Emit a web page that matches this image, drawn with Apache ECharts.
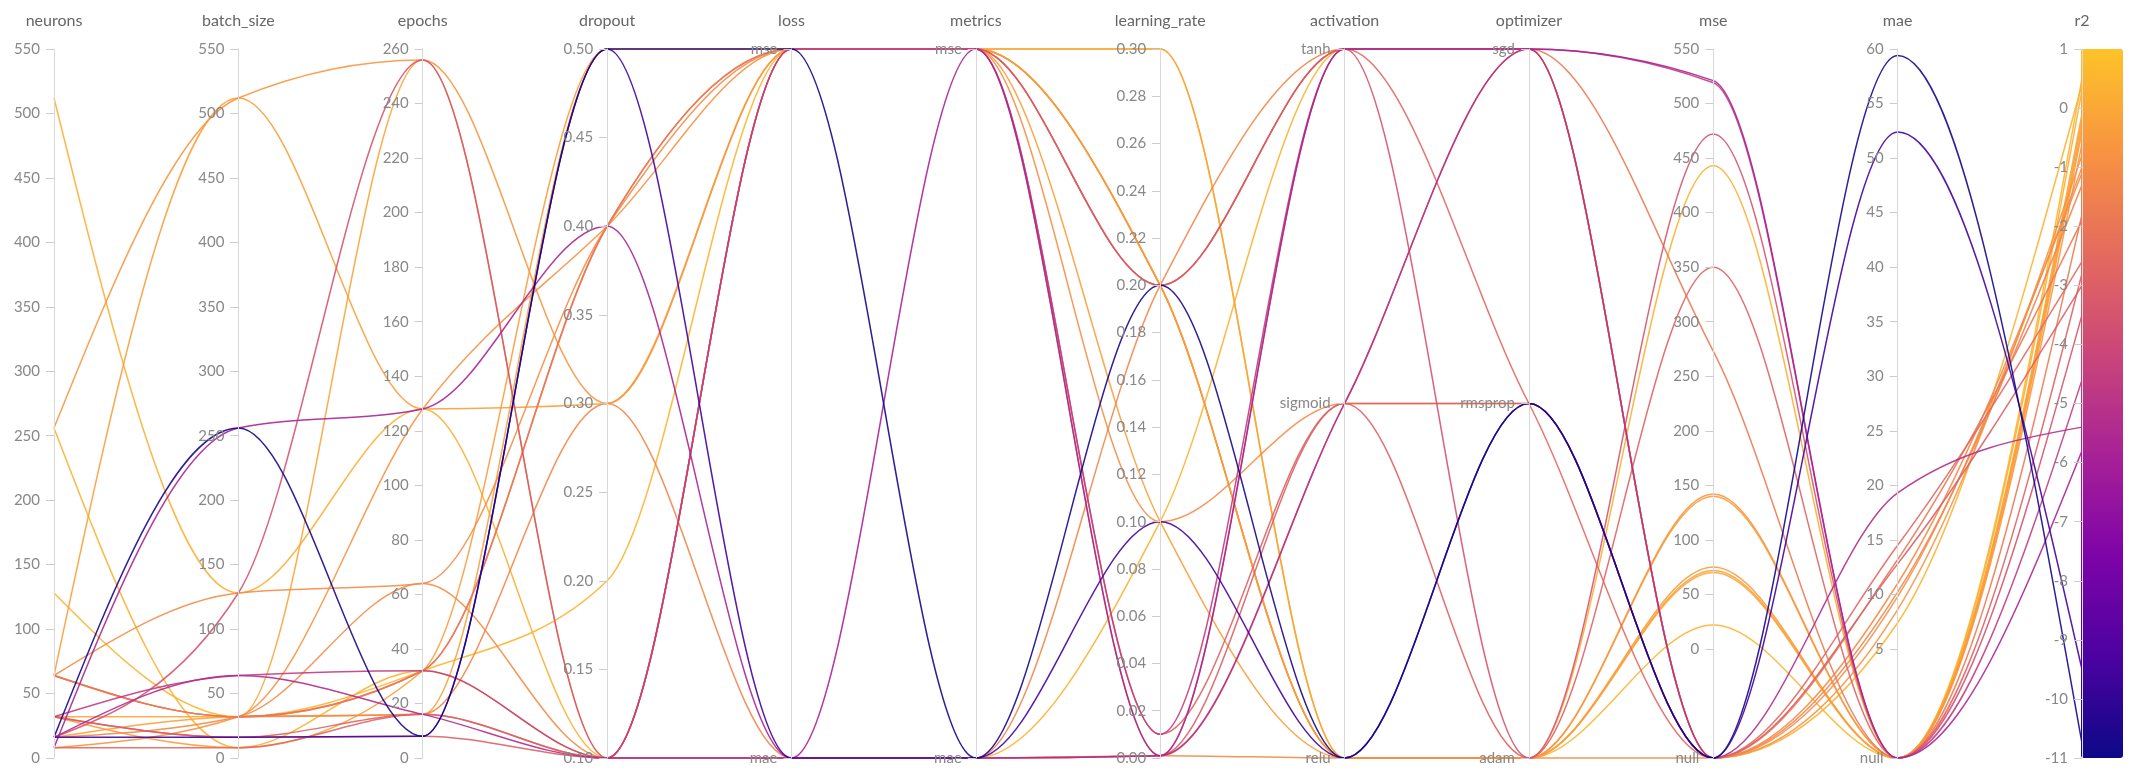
<!DOCTYPE html>
<html>
<head>
<meta charset="utf-8">
<script src="https://cdn.jsdelivr.net/npm/echarts@6/dist/echarts.min.js"></script>
<style>
  html, body { margin: 0; padding: 0; background: #ffffff; }
  #chart { width: 2147px; height: 771px; }
</style>
</head>
<body>
<div id="chart"></div>
<script>
// One entry per training run of the hyper-parameter sweep.
const neurons      = [128, 256, 512, 32, 16, 64, 32, 256, 8, 64, 16, 64, 64, 64, 8, 32, 32, 16, 32, 16, 8, 16, 16];
const batchSize    = [32, 8, 128, 32, 32, 512, 8, 512, 32, 128, 32, 32, 32, 32, 8, 16, 16, 128, 64, 64, 256, 16, 256];
const epochs       = [32, 32, 128, 256, 16, 128, 32, 256, 128, 64, 64, 16, 32, 32, 16, 16, 8, 256, 32, 16, 128, 8, 8];
const dropout      = [0.2, 0.1, 0.1, 0.1, 0.5, 0.3, 0.5, 0.3, 0.4, 0.4, 0.1, 0.3, 0.4, 0.4, 0.1, 0.1, 0.1, 0.1, 0.1, 0.1, 0.4, 0.5, 0.5];
const loss         = ['mse', 'mae', 'mse', 'mse', 'mse', 'mse', 'mse', 'mse', 'mse', 'mse', 'mae', 'mae', 'mse', 'mse', 'mae', 'mse', 'mae', 'mse', 'mse', 'mae', 'mae', 'mae', 'mse'];
const metrics      = ['mse', 'mae', 'mse', 'mse', 'mse', 'mse', 'mse', 'mse', 'mse', 'mse', 'mae', 'mae', 'mse', 'mse', 'mae', 'mse', 'mae', 'mse', 'mse', 'mae', 'mse', 'mae', 'mae'];
const learningRate = [0.2, 0.1, 0.3, 0.3, 0.2, 0.1, 0.2, 0.2, 0.2, 0.1, 0.001, 0.2, 0.2, 0.001, 0.001, 0.01, 0.001, 0.2, 0.01, 0.001, 0.001, 0.1, 0.2];
const activation   = ['relu', 'tanh', 'relu', 'relu', 'relu', 'relu', 'relu', 'relu', 'tanh', 'sigmoid', 'relu', 'tanh', 'tanh', 'sigmoid', 'tanh', 'sigmoid', 'sigmoid', 'tanh', 'tanh', 'sigmoid', 'tanh', 'relu', 'relu'];
const optimizer    = ['adam', 'sgd', 'adam', 'adam', 'adam', 'adam', 'adam', 'adam', 'sgd', 'rmsprop', 'adam', 'sgd', 'sgd', 'sgd', 'rmsprop', 'adam', 'rmsprop', 'adam', 'sgd', 'sgd', 'sgd', 'rmsprop', 'rmsprop'];
const mse          = [22, null, 443, 70, 72, 75, 140, 142, null, null, null, null, 273, null, null, 350, null, 472, 519, null, 521, null, null];
const mae          = [null, 7.4, null, null, null, null, null, null, 8.6, 9.8, 11, 10.2, null, 13.2, 14.5, null, 12.8, null, null, 19.3, null, 52.4, 59.4];
const r2           = [0.5, 0.4, 0.3, -0.1, -0.2, -0.3, -0.4, -0.6, -0.8, -1.0, -1.1, -1.3, -1.8, -1.9, -2.6, -2.8, -3.0, -3.5, -4.6, -5.4, -5.8, -9.5, -10.75];

// Category orders run bottom-to-top along each axis.
const lossCategories       = ['mae', 'mse'];
const metricCategories     = ['mae', 'mse'];
const activationCategories = ['relu', 'sigmoid', 'tanh'];
const optimizerCategories  = ['adam', 'rmsprop', 'sgd'];

// Missing metric values sit on a "null" slot below the numeric range.
const MSE_NULL = -100;
const MAE_NULL = -5;
const mseTicks = [MSE_NULL, 0, 50, 100, 150, 200, 250, 300, 350, 400, 450, 500, 550];
const maeTicks = [MAE_NULL, 5, 10, 15, 20, 25, 30, 35, 40, 45, 50, 55, 60];

const plasma = ['#0d0887', '#4c02a1', '#7e03a8', '#a82296', '#cb4679', '#e56b5d', '#f89441', '#fdc328'];

const rows = neurons.map((_, i) => [
  neurons[i], batchSize[i], epochs[i], dropout[i], loss[i], metrics[i],
  learningRate[i], activation[i], optimizer[i],
  mse[i] === null ? MSE_NULL : mse[i],
  mae[i] === null ? MAE_NULL : mae[i],
  r2[i]
]);
const DIM_COUNT = rows[0].length;

const FONT = 'Lato';
// Ticks and labels sit on the left-hand side of every axis.
const axisCommon = {
  nameLocation: 'end',
  nameGap: 20,
  nameMoveOverlap: false,
  nameTextStyle: { color: '#666', fontSize: 16, fontFamily: FONT, align: 'center' },
  axisLine: { lineStyle: { color: '#d9d9d9', width: 1 } },
  axisTick: { show: true, length: -8, lineStyle: { color: '#cccccc' } },
  axisLabel: { color: '#888', fontSize: 15, fontFamily: FONT, margin: -14, align: 'right' },
  splitLine: { show: false }
};

function valueAxis(dim, name, min, max, interval, fmt) {
  const ax = Object.assign({}, axisCommon, { dim, name, type: 'value', min, max, interval });
  ax.axisLabel = Object.assign({}, axisCommon.axisLabel);
  if (fmt) ax.axisLabel.formatter = fmt;
  return ax;
}
function categoryAxis(dim, name, data) {
  return Object.assign({}, axisCommon, { dim, name, type: 'category', data, boundaryGap: false });
}
function nullableAxis(dim, name, min, max, ticks, nullValue) {
  const ax = Object.assign({}, axisCommon, { dim, name, type: 'value', min, max });
  ax.axisTick = Object.assign({}, axisCommon.axisTick, { customValues: ticks });
  ax.axisLabel = Object.assign({}, axisCommon.axisLabel, {
    customValues: ticks,
    formatter: v => (v === nullValue ? 'null' : String(v))
  });
  return ax;
}

// Monotone cubic interpolation in x (no overshoot between axes).
function monotonePath(ctx, shape) {
  const p = shape.points;
  const n = p ? p.length : 0;
  if (n < 2) return;
  const sign = v => (v < 0 ? -1 : 1);
  const t = new Array(n).fill(0);
  for (let i = 1; i < n - 1; i++) {
    const h0 = p[i][0] - p[i - 1][0];
    const h1 = p[i + 1][0] - p[i][0];
    const s0 = (p[i][1] - p[i - 1][1]) / h0;
    const s1 = (p[i + 1][1] - p[i][1]) / h1;
    const q = (s0 * h1 + s1 * h0) / (h0 + h1);
    t[i] = (sign(s0) + sign(s1)) * Math.min(Math.abs(s0), Math.abs(s1), 0.5 * Math.abs(q)) || 0;
  }
  if (n > 2) {
    const ha = p[1][0] - p[0][0];
    t[0] = ha ? (3 * (p[1][1] - p[0][1]) / ha - t[1]) / 2 : t[1];
    const hb = p[n - 1][0] - p[n - 2][0];
    t[n - 1] = hb ? (3 * (p[n - 1][1] - p[n - 2][1]) / hb - t[n - 2]) / 2 : t[n - 2];
  } else {
    t[0] = t[1] = (p[1][1] - p[0][1]) / (p[1][0] - p[0][0]);
  }
  ctx.moveTo(p[0][0], p[0][1]);
  for (let i = 0; i < n - 1; i++) {
    const dx = (p[i + 1][0] - p[i][0]) / 3;
    ctx.bezierCurveTo(
      p[i][0] + dx, p[i][1] + dx * t[i],
      p[i + 1][0] - dx, p[i + 1][1] - dx * t[i + 1],
      p[i + 1][0], p[i + 1][1]
    );
  }
}

const chart = echarts.init(document.getElementById('chart'), null, { renderer: 'canvas' });
chart.setOption({
  animation: false,
  backgroundColor: '#ffffff',
  parallel: {
    left: 54, right: 65, top: 49, bottom: 13,
    layout: 'horizontal'
  },
  parallelAxis: [
    valueAxis(0, 'neurons', 0, 550, 50),
    valueAxis(1, 'batch_size', 0, 550, 50),
    valueAxis(2, 'epochs', 0, 260, 20),
    valueAxis(3, 'dropout', 0.1, 0.5, 0.05, v => v.toFixed(2)),
    categoryAxis(4, 'loss', lossCategories),
    categoryAxis(5, 'metrics', metricCategories),
    valueAxis(6, 'learning_rate', 0, 0.3, 0.02, v => v.toFixed(2)),
    categoryAxis(7, 'activation', activationCategories),
    categoryAxis(8, 'optimizer', optimizerCategories),
    nullableAxis(9, 'mse', MSE_NULL, 550, mseTicks, MSE_NULL),
    nullableAxis(10, 'mae', MAE_NULL, 60, maeTicks, MAE_NULL),
    valueAxis(11, 'r2', -11, 1, 1)
  ],
  visualMap: {
    type: 'continuous',
    dimension: 11,
    min: -11,
    max: 1,
    left: 2081,
    top: 49,
    itemWidth: 42,
    itemHeight: 709,
    padding: 0,
    calculable: false,
    hoverLink: false,
    showLabel: false,
    text: null,
    inRange: { color: plasma }
  },
  series: [{
    type: 'parallel',
    smooth: true,
    silent: true,
    lineStyle: { width: 1.5, opacity: 0.9 },
    data: rows
  }]
});

// Swap the default spline of each run line for the monotone curve.
const zr = chart.getZr();
zr.storage.getDisplayList(true).forEach(el => {
  if (el.type === 'polyline' && el.shape && el.shape.points && el.shape.points.length === DIM_COUNT) {
    el.buildPath = monotonePath;
    el.dirtyShape();
  }
});
zr.refresh();
</script>
</body>
</html>
